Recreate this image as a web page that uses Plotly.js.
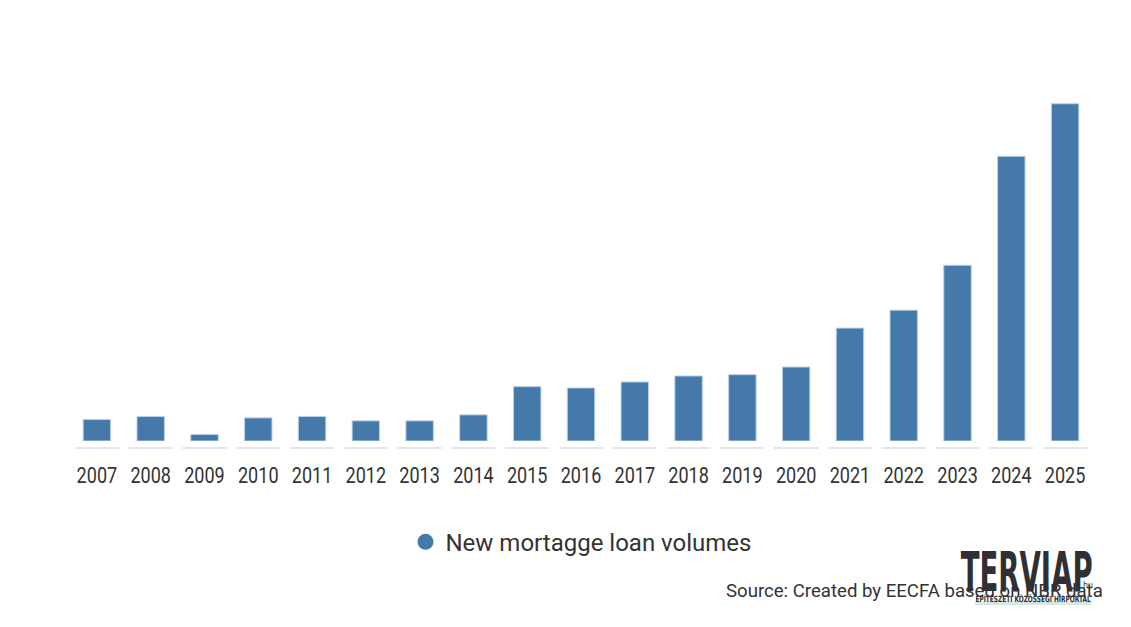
<!DOCTYPE html>
<html>
<head>
<meta charset="utf-8">
<script src="https://cdn.plot.ly/plotly-3.0.1.min.js"></script>
<style>html,body{margin:0;padding:0;background:#fff;}#chart{width:1131px;height:627px;}</style>
</head>
<body>
<div id="chart"></div>
<script>
const years = ["2007","2008","2009","2010","2011","2012","2013","2014","2015","2016","2017","2018","2019","2020","2021","2022","2023","2024","2025"];
const loanVolumes = [21.5,24.5,6.5,23.2,24.5,20.2,20.2,26.2,54.5,53.2,59.2,65.2,66.5,74.2,113.2,131.2,176.2,285.5,338.2];
const seriesName = "New mortagge loan volumes";
const sourceText = "Source: Created by EECFA based on NBR data";
const logoText = "TERVIAP";
const logoSubText = "ÉPÍTÉSZETI KÖZÖSSÉGI HÍRPORTÁL";
const logoSuffix = "hu";

const barColor = "#4479a9";
const textColor = "#333333";
const logoColor = "#2f2f34";

// pixel -> paper helpers (plot area: x 70..1092, y 81.5..441.5)
const px = v => (v - 70) / 1022;
const py = v => (441.5 - v) / 360;

const traces = [
  {
    type: "bar",
    x: years,
    y: loanVolumes,
    width: 0.51,
    marker: {color: barColor, line: {color: "#b9d0e6", width: 1}},
    showlegend: false,
    hoverinfo: "x+y"
  },
  {
    type: "scatter",
    mode: "markers",
    x: [null],
    y: [null],
    name: seriesName,
    marker: {color: barColor, size: 18, symbol: "circle"},
    showlegend: true
  }
];

const shapes = years.map((y, i) => ({
  type: "line",
  xref: "x",
  yref: "paper",
  x0: i - 0.41,
  x1: i + 0.41,
  y0: -7 / 360,
  y1: -7 / 360,
  line: {color: "#dde8f3", width: 2},
  layer: "below"
}));
shapes.push({
  type: "rect", xref: "paper", yref: "paper",
  x0: px(975), x1: px(1091), y0: py(606), y1: py(602.5),
  line: {width: 0}, fillcolor: "#d3e8e2", layer: "above"
});

const layout = {
  width: 1131,
  height: 627,
  margin: {l: 70, r: 39, t: 81.5, b: 185.5},
  paper_bgcolor: "#ffffff",
  plot_bgcolor: "#ffffff",
  font: {family: "Roboto, sans-serif", color: textColor, size: 18},
  xaxis: {
    type: "category",
    range: [-0.5, 18.5],
    showgrid: false,
    zeroline: false,
    showline: false,
    ticks: "",
    ticklabelstandoff: 19,
    tickfont: {family: "Roboto, sans-serif", size: 22, color: textColor},
    fixedrange: true
  },
  yaxis: {
    range: [0, 360],
    visible: false,
    showgrid: false,
    zeroline: false,
    fixedrange: true
  },
  bargap: 0.49,
  shapes: shapes,
  legend: {
    orientation: "h",
    x: 0.5,
    xanchor: "center",
    y: py(543),
    yanchor: "middle",
    font: {family: "Roboto, sans-serif", size: 24, color: textColor},
    itemsizing: "trace"
  },
  annotations: [
    {
      xref: "paper", yref: "paper",
      x: px(1105), y: py(592),
      xanchor: "right", yanchor: "middle",
      text: sourceText,
      showarrow: false,
      font: {family: "Roboto, sans-serif", size: 18.6, color: textColor}
    },
    {
      xref: "paper", yref: "paper",
      x: px(1026), y: py(573),
      xanchor: "center", yanchor: "middle",
      text: logoText,
      showarrow: false,
      font: {family: "DejaVu Sans, sans-serif", size: 55, weight: "bold", color: logoColor}
    },
    {
      xref: "paper", yref: "paper",
      x: px(1033), y: py(599),
      xanchor: "center", yanchor: "middle",
      text: logoSubText,
      showarrow: false,
      font: {family: "DejaVu Sans, sans-serif", size: 8.5, weight: "bold", color: logoColor}
    },
    {
      xref: "paper", yref: "paper",
      x: px(1088), y: py(586),
      xanchor: "center", yanchor: "middle",
      text: logoSuffix,
      showarrow: false,
      font: {family: "DejaVu Sans, sans-serif", size: 8, color: logoColor}
    }
  ]
};

function squeeze(el, sx, sy) {
  const bb = el.getBBox();
  const cx = bb.x + bb.width / 2, cy = bb.y + bb.height / 2;
  const prev = el.getAttribute("transform") || "";
  el.setAttribute("transform", prev + " translate(" + cx + "," + cy + ") scale(" + sx + "," + sy + ") translate(" + (-cx) + "," + (-cy) + ")");
}

Plotly.newPlot("chart", traces, layout, {displayModeBar: false, staticPlot: true}).then(gd => {
  // condensed look of the tick labels
  gd.querySelectorAll(".xtick text").forEach(t => squeeze(t, 0.82, 1));
  gd.querySelectorAll("text.annotation-text").forEach(t => {
    const s = t.textContent;
    if (s === logoText) squeeze(t, 132 / t.getBBox().width, 1);
    else if (s === logoSubText) squeeze(t, 116 / t.getBBox().width, 1);
  });
});
</script>
</body>
</html>
